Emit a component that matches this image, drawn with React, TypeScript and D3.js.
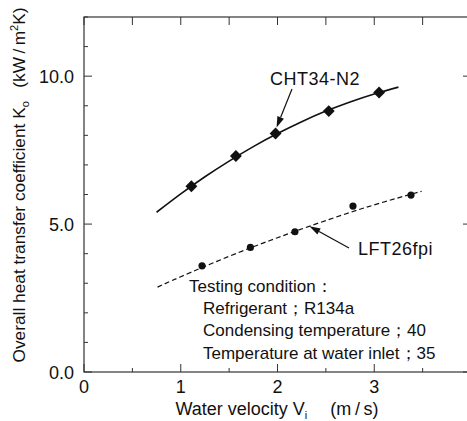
import React from "react";
import * as d3 from "d3";

const chtX = [1.11, 1.57, 1.98, 2.53, 3.05];
const chtY = [6.28, 7.3, 8.06, 8.82, 9.45];
const chtFitX = [0.75, 1.0, 1.25, 1.5, 1.75, 2.0, 2.25, 2.5, 2.75, 3.0, 3.25];
const chtFitY = [5.4, 6.02, 6.6, 7.13, 7.62, 8.06, 8.46, 8.82, 9.13, 9.4, 9.63];

const lftX = [1.22, 1.72, 2.18, 2.78, 3.38];
const lftY = [3.59, 4.21, 4.74, 5.61, 5.98];
const lftFitX = [0.76, 1.0, 1.5, 2.0, 2.5, 3.0, 3.49];
const lftFitY = [2.87, 3.22, 3.91, 4.54, 5.12, 5.65, 6.11];

const xTickLabels = ["0", "1", "2", "3"];
const yTickLabels = ["0.0", "5.0", "10.0"];
const conditionLines = [
  "Testing condition：",
  "Refrigerant；R134a",
  "Condensing temperature；40",
  "Temperature at water inlet；35",
];

const W = 467;
const H = 421;
const M = { left: 84, top: 17, right: 471, bottom: 372 };
const FONT = "'Liberation Sans', Arial, Helvetica, sans-serif";
const COL = "#111";

export default function App() {
  const x = d3.scaleLinear().domain([0, 4]).range([M.left, M.right]);
  const y = d3.scaleLinear().domain([0, 12]).range([M.bottom, M.top]);

  const line = d3
    .line<[number, number]>()
    .x((d) => x(d[0]))
    .y((d) => y(d[1]))
    .curve(d3.curveNatural);

  const chtFit = chtFitX.map((v, i) => [v, chtFitY[i]] as [number, number]);
  const lftFit = lftFitX.map((v, i) => [v, lftFitY[i]] as [number, number]);

  const xMinor = d3.range(0, 4.01, 0.5);
  const yMinor = d3.range(0, 12.01, 1);

  const arrow = (x1: number, y1: number, x2: number, y2: number) => {
    const dx = x2 - x1;
    const dy = y2 - y1;
    const len = Math.hypot(dx, dy);
    const ux = dx / len;
    const uy = dy / len;
    const hl = 11;
    const hw = 3.5;
    const bx = x2 - ux * hl;
    const by = y2 - uy * hl;
    const p1 = [bx - uy * hw, by + ux * hw];
    const p2 = [bx + uy * hw, by - ux * hw];
    return (
      <g>
        <line x1={x1} y1={y1} x2={bx} y2={by} stroke={COL} strokeWidth={1.2} />
        <polygon points={`${x2},${y2} ${p1[0]},${p1[1]} ${p2[0]},${p2[1]}`} fill={COL} />
      </g>
    );
  };

  return (
    <svg
      width={W}
      height={H}
      style={{ position: "absolute", left: 0, top: 0, background: "#fff" }}
      fontFamily={FONT}
    >
      <rect
        x={M.left}
        y={M.top}
        width={M.right - M.left}
        height={M.bottom - M.top}
        fill="none"
        stroke="#333"
        strokeWidth={1.2}
      />
      {xMinor.map((v, i) => {
        const major = Math.abs(v - Math.round(v)) < 1e-6;
        const len = major ? 8 : 4;
        return (
          <g key={"xt" + i}>
            <line x1={x(v)} x2={x(v)} y1={M.bottom} y2={M.bottom - len} stroke="#333" />
            <line x1={x(v)} x2={x(v)} y1={M.top} y2={M.top + 8} stroke="#333" />
          </g>
        );
      })}
      {yMinor.map((v, i) => {
        const major = v % 5 === 0;
        const len = major ? 8 : 4;
        return (
          <g key={"yt" + i}>
            <line x1={M.left} x2={M.left + len} y1={y(v)} y2={y(v)} stroke="#333" />
            {major && (
              <line x1={M.right} x2={M.right - 8} y1={y(v)} y2={y(v)} stroke="#333" />
            )}
          </g>
        );
      })}
      {xTickLabels.map((t) => (
        <text key={"xl" + t} x={x(+t)} y={393} fontSize={18} textAnchor="middle" fill={COL}>
          {t}
        </text>
      ))}
      {yTickLabels.map((t) => (
        <text key={"yl" + t} x={74} y={y(+t) + 7} fontSize={18} textAnchor="end" fill={COL}>
          {t}
        </text>
      ))}
      <text x={277} y={415} fontSize={18} textAnchor="middle" fill={COL}>
        Water velocity V
        <tspan fontSize={11} dy={4}>i</tspan>
        <tspan dy={-4}>{"\u2003 (m\u2009/\u2009s)"}</tspan>
      </text>
      <text
        transform={`translate(25, 185) rotate(-90)`}
        fontSize={17.3}
        textAnchor="middle"
        fill={COL}
      >
        Overall heat transfer coefficient K
        <tspan fontSize={11} dy={4}>o</tspan>
        <tspan dy={-4}>{"\u2002 (kW\u2009/\u2009m"}</tspan>
        <tspan fontSize={11} dy={-7}>2</tspan>
        <tspan dy={7}>K)</tspan>
      </text>
      <path d={line(chtFit) || ""} fill="none" stroke={COL} strokeWidth={1.6} />
      <path
        d={line(lftFit) || ""}
        fill="none"
        stroke={COL}
        strokeWidth={1.2}
        strokeDasharray="5,3"
      />
      {chtX.map((v, i) => (
        <path
          key={"cd" + i}
          d={d3.symbol(d3.symbolDiamond2, 90)() || ""}
          transform={`translate(${x(v)},${y(chtY[i])})`}
          fill={COL}
        />
      ))}
      {lftX.map((v, i) => (
        <circle key={"ld" + i} cx={x(v)} cy={y(lftY[i])} r={3.6} fill={COL} />
      ))}
      <text x={270} y={85} fontSize={18} letterSpacing={0.5} fill={COL}>CHT34-N2</text>
      {arrow(292, 89, x(1.98) + 1, y(8.06) - 6)}
      <text x={358} y={255} fontSize={18} letterSpacing={0.5} fill={COL}>LFT26fpi</text>
      {arrow(349, 248, x(2.33), y(4.93))}
      {conditionLines.map((t, i) => (
        <text
          key={"cl" + i}
          x={i === 0 ? 189 : 203}
          y={292 + i * 22.2}
          fontSize={17}
          fill={COL}
        >
          {t}
        </text>
      ))}
    </svg>
  );
}
